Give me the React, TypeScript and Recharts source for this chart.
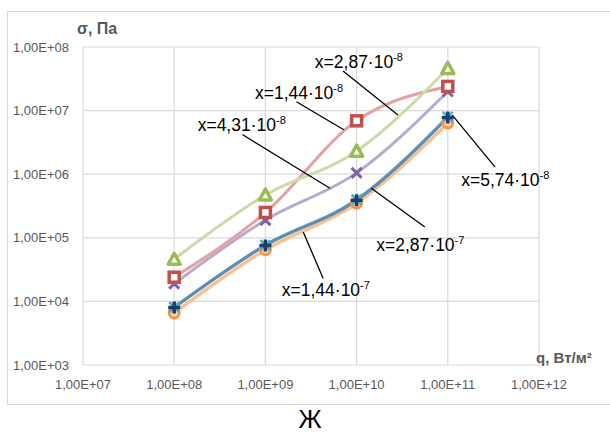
import React from 'react';
import {
  LineChart,
  Line,
  XAxis,
  YAxis,
  CartesianGrid,
  ReferenceLine,
  ReferenceDot,
} from 'recharts';

// heat flux q, W/m2
const Q = [1e8, 1e9, 1e10, 1e11];

// stress sigma, Pa, one array per x value
const SIGMA_144E8 = [2.4e4, 2.5e5, 6.9e6, 2.4e7];
const SIGMA_287E8 = [4.6e4, 4.7e5, 2.3e6, 4.6e7];
const SIGMA_431E8 = [1.9e4, 1.9e5, 1.05e6, 2.0e7];
const SIGMA_574E8 = [8.0e3, 7.6e4, 3.9e5, 7.8e6];
const SIGMA_144E7 = [6.6e3, 6.5e4, 3.5e5, 6.4e6];
const SIGMA_287E7 = [8.1e3, 7.7e4, 4.0e5, 8.0e6];

const X_TICKS = [1e7, 1e8, 1e9, 1e10, 1e11, 1e12];
const Y_TICKS = [1e3, 1e4, 1e5, 1e6, 1e7, 1e8];

// callouts: text, label position and leader line, all in data units
const NOTES = [
  { mant: '2,87', exp: '-8', at: [1.06e10, 5.8e7], from: [7.1e9, 4.2e7], to: [2.84e10, 8.5e6] },
  { mant: '1,44', exp: '-8', at: [2.34e9, 1.9e7], from: [2.19e9, 1.38e7], to: [7.24e9, 5.0e6] },
  { mant: '4,31', exp: '-8', at: [5.5e8, 5.9e6], from: [5.6e8, 4.2e6], to: [5.1e9, 6.0e5] },
  { mant: '5,74', exp: '-8', at: [4.27e11, 8.1e5], from: [1.12e11, 8.5e6], to: [3.3e11, 1.29e6] },
  { mant: '2,87', exp: '-7', at: [5.0e10, 7.8e4], from: [5.6e10, 1.48e5], to: [1.45e10, 6.0e5] },
  { mant: '1,44', exp: '-7', at: [4.6e9, 1.5e4], from: [4.3e9, 2.3e4], to: [2.6e9, 1.23e5] },
];

const data = Q.map((q, i) => ({
  q,
  a: SIGMA_144E8[i],
  b: SIGMA_287E8[i],
  c: SIGMA_431E8[i],
  d: SIGMA_574E8[i],
  e: SIGMA_144E7[i],
  f: SIGMA_287E7[i],
}));

const fmt = (v: number) => {
  const e = Math.round(Math.log10(v));
  return `1,00E+${String(e).padStart(2, '0')}`;
};

const FONT = '"Liberation Sans", Arial, sans-serif';

const Triangle = ({ cx, cy }: any) => (
  <path
    d={`M${cx},${cy - 6} L${cx + 6},${cy + 5} L${cx - 6},${cy + 5} Z`}
    fill="#fff"
    stroke="#9BBB59"
    strokeWidth={3.5}
    strokeLinejoin="round"
  />
);
const Square = ({ cx, cy }: any) => (
  <rect x={cx - 5} y={cy - 5} width={10} height={10} fill="#fff" stroke="#C0504D" strokeWidth={3.5} />
);
const Cross = ({ cx, cy }: any) => (
  <path
    d={`M${cx - 5},${cy - 5} L${cx + 5},${cy + 5} M${cx + 5},${cy - 5} L${cx - 5},${cy + 5}`}
    stroke="#8064A2"
    strokeWidth={3}
  />
);
const Circle = ({ cx, cy }: any) => (
  <circle cx={cx} cy={cy} r={5} fill="#FBD5B5" stroke="#F79646" strokeWidth={3} />
);
const Star = ({ cx, cy }: any) => (
  <path
    d={`M${cx - 5},${cy - 5} L${cx + 5},${cy + 5} M${cx + 5},${cy - 5} L${cx - 5},${cy + 5}`}
    stroke="#4BACC6"
    strokeWidth={2.5}
  />
);
const Plus = ({ cx, cy }: any) => (
  <path
    d={`M${cx - 6},${cy} L${cx + 6},${cy} M${cx},${cy - 6} L${cx},${cy + 6}`}
    stroke="#1F3E64"
    strokeWidth={3.5}
  />
);

const NoteText = ({ cx, cy, mant, exp }: any) => (
  <text x={cx} y={cy} dy="0.35em" textAnchor="middle" fontFamily={FONT} fontSize={17.5} fill="#000">
    {`x=${mant}·10`}
    <tspan fontSize={11} dy={-7}>
      {exp}
    </tspan>
  </text>
);

const App: React.FC = () => {
  return (
    <div style={{ position: 'absolute', left: 0, top: 0, width: 610, height: 436, background: '#fff' }}>
      <div
        style={{
          position: 'absolute',
          left: 7,
          top: 11,
          width: 620,
          height: 392,
          border: '1.5px solid #D9D9D9',
        }}
      />
      <div style={{ position: 'absolute', left: 0, top: 0 }}>
        <LineChart width={610} height={436} data={data} margin={{ top: 47, right: 71, bottom: 41, left: 13 }}>
          <CartesianGrid stroke="#D9D9D9" strokeWidth={1.2} />
          <XAxis
            dataKey="q"
            type="number"
            scale="log"
            domain={[1e7, 1e12]}
            ticks={X_TICKS}
            tickFormatter={fmt}
            axisLine={false}
            tickLine={false}
            tickSize={6}
            tickMargin={9}
            height={30}
            tick={{ fontFamily: FONT, fontSize: 13, fill: '#595959' }}
            allowDataOverflow
          />
          <YAxis
            type="number"
            scale="log"
            domain={[1e3, 1e8]}
            ticks={Y_TICKS}
            tickFormatter={fmt}
            axisLine={false}
            tickLine={false}
            tickSize={6}
            tickMargin={8}
            width={70}
            tick={{ fontFamily: FONT, fontSize: 13, fill: '#595959' }}
            allowDataOverflow
          />
          <Line dataKey="e" type="monotone" stroke="#FAC090" strokeWidth={3.5} dot={<Circle />} isAnimationActive={false} />
          <Line dataKey="f" type="monotone" stroke="#7FB6CC" strokeWidth={3} dot={<Star />} isAnimationActive={false} />
          <Line dataKey="d" type="monotone" stroke="#5B8DB6" strokeWidth={3} dot={<Plus />} isAnimationActive={false} />
          <Line dataKey="c" type="monotone" stroke="#B9A9D1" strokeWidth={3} dot={<Cross />} isAnimationActive={false} />
          <Line dataKey="a" type="monotone" stroke="#E3A3A1" strokeWidth={3} dot={<Square />} isAnimationActive={false} />
          <Line dataKey="b" type="monotone" stroke="#C9DCA6" strokeWidth={3} dot={<Triangle />} isAnimationActive={false} />
          {NOTES.map((n, i) => (
            <ReferenceLine
              key={`l${i}`}
              segment={[
                { x: n.from[0], y: n.from[1] },
                { x: n.to[0], y: n.to[1] },
              ]}
              stroke="#000"
              strokeWidth={1.3}
            />
          ))}
          {NOTES.map((n, i) => (
            <ReferenceDot
              key={`t${i}`}
              x={n.at[0]}
              y={n.at[1]}
              r={1}
              shape={(p: any) => <NoteText cx={p.cx} cy={p.cy} mant={n.mant} exp={n.exp} />}
            />
          ))}
        </LineChart>
      </div>
      <svg
        width={610}
        height={436}
        style={{ position: 'absolute', left: 0, top: 0, pointerEvents: 'none' }}
      >
        <text x={77} y={34} fontFamily={FONT} fontSize={16} fontWeight="bold" fill="#595959">
          σ, Па
        </text>
        <text x={536} y={363} fontFamily={FONT} fontSize={15} fontWeight="bold" fill="#595959">
          q, Вт/м²
        </text>
        <text x={310} y={428} textAnchor="middle" fontFamily={FONT} fontSize={25} fill="#000">
          Ж
        </text>
      </svg>
    </div>
  );
};

export default App;
